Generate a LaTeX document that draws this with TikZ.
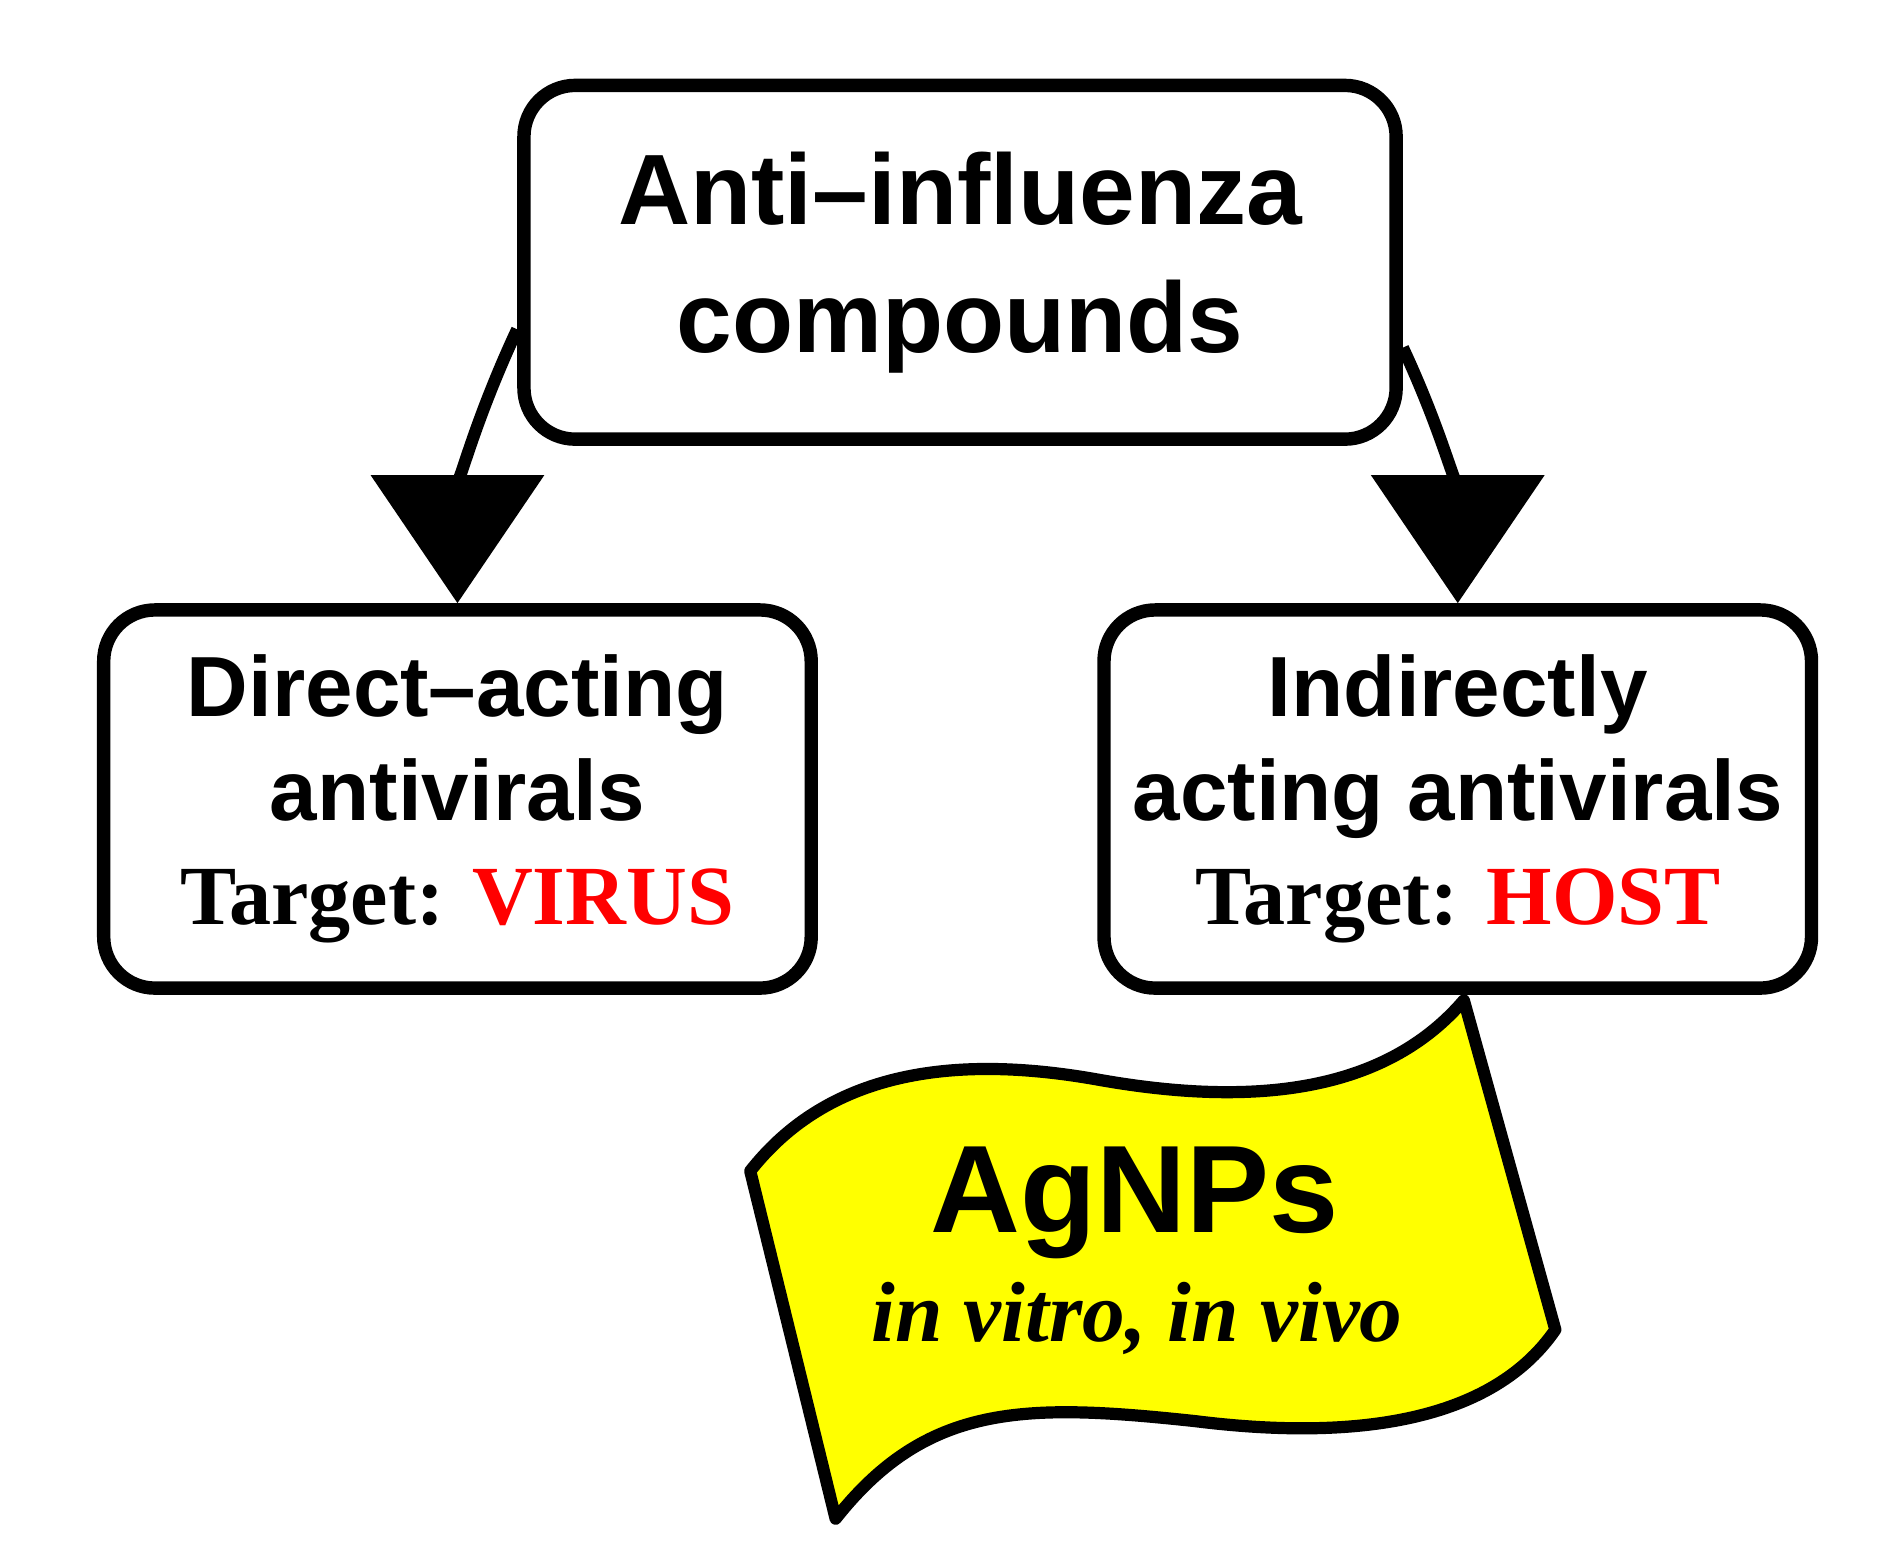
\documentclass[tikz,border=0pt]{standalone}
\usepackage{fontspec}
\newfontfamily\sansbf{Liberation Sans}
\newfontfamily\serifbf{Liberation Serif}
\usetikzlibrary{arrows.meta,positioning}
\definecolor{flagyellow}{RGB}{255,255,0}
\definecolor{targetred}{RGB}{255,0,0}
\tikzset{
  box/.style = {draw, line width=11pt, rounded corners=42pt, align=center, inner sep=0pt},
  branch/.style = {line width=10pt, -{Triangle[width=140pt 0 0,length=105pt 0 0]}},
}
\begin{document}
\begin{tikzpicture}[x=1pt,y=-1pt]
        \useasboundingbox (0,0) rectangle (1560,1277);
        \node[box, minimum width=715pt, minimum height=290pt,
              font=\sansbf\bfseries\fontsize{82}{105}\selectfont] (top) at (787,215)
              {Anti\textendash influenza\\compounds};
        \node[box, minimum width=580pt, minimum height=310pt,
              font=\sansbf\bfseries\fontsize{70}{85}\selectfont] (direct) at (375,655)
              {Direct\textendash acting\\antivirals\\{\serifbf\bfseries\fontsize{69}{85}\selectfont Target: \textcolor{targetred}{VIRUS}}};
        \node[box, minimum width=580pt, minimum height=310pt,
              font=\sansbf\bfseries\fontsize{70}{85}\selectfont] (indirect) at (1195,655)
              {Indirectly\\acting antivirals\\{\serifbf\bfseries\fontsize{69}{85}\selectfont Target: \textcolor{targetred}{HOST}}};
        \draw[branch] ([yshift=-55pt]top.west) to[out=245, in=90] (direct.north);
        \draw[branch] ([yshift=-70pt]top.east) to[out=-65, in=90] (indirect.north);
        % flag
        \coordinate (f1) at (615,960);
        \coordinate (f2) at (1200,820);
        \coordinate (f3) at (1275,1090);
        \coordinate (f4) at (685,1245);
        \draw[line width=10pt, fill=flagyellow, line join=round]
            (f1) .. controls (670,890) and (760,860) .. (900,885)
            .. controls (1040,910) and (1140,890) .. (f2) -- (f3)
            .. controls (1220,1170) and (1100,1180) .. (980,1165)
            .. controls (840,1150) and (760,1150) .. (f4) -- cycle;
        \node[font=\sansbf\bfseries\fontsize{102}{110}\selectfont, anchor=base] (agnp) at (930,1010) {AgNPs};
        \node[font=\serifbf\bfseries\itshape\fontsize{70}{72}\selectfont, anchor=base] (invivo) at (932,1100) {in vitro, in vivo};
\end{tikzpicture}
\end{document}
